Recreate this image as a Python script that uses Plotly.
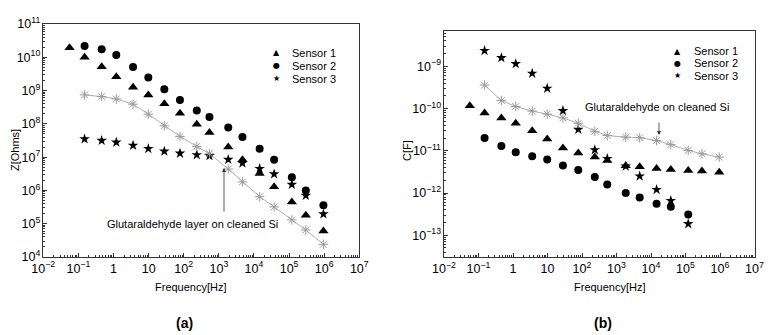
import plotly.graph_objects as go

# ---------------- data ----------------
freq_all = [0.056, 0.15, 0.46, 1.2, 3.6, 9.8, 28, 78, 235, 540, 1850, 4700,
            14500, 37500, 120000, 300000, 950000]
freq_16 = freq_all[1:]
freq_14 = freq_all[1:15]

z_sensor1 = [1.95e10, 1.0e10, 5.2e9, 2.6e9, 1.26e9, 7.4e8, 4.0e8, 2.1e8, 9.8e7,
             5.5e7, 2.0e7, 8.3e6, 3.2e6, 1.3e6, 4.5e5, 1.8e5, 6.0e4]
z_sensor2 = [2.2e10, 1.75e10, 1.17e10, 5.1e9, 2.45e9, 1.1e9, 5.2e8, 2.5e8, 1.6e8,
             7.8e7, 4.0e7, 1.8e7, 8.3e6, 2.5e6, 1.0e6, 3.6e5]
z_sensor3 = [3.5e7, 3.15e7, 2.8e7, 2.25e7, 1.8e7, 1.5e7, 1.3e7, 1.17e7, 1.1e7,
             8.5e6, 6.6e6, 4.5e6, 3.1e6, 1.5e6, 7.0e5, 1.95e5]
z_glut = [7.4e8, 6.6e8, 5.6e8, 3.9e8, 1.95e8, 8.7e7, 4.2e7, 2.1e7, 1.26e7,
          4.4e6, 1.8e6, 6.5e5, 3.2e5, 1.3e5, 6.5e4, 2.4e4]

c_sensor1 = [1.17e-10, 7.9e-11, 6.0e-11, 4.5e-11, 3.0e-11, 1.9e-11, 1.17e-11,
             8.9e-12, 7.1e-12, 5.9e-12, 4.4e-12, 4.2e-12, 3.8e-12, 3.6e-12,
             3.4e-12, 3.3e-12, 3.1e-12]
c_sensor2 = [2.0e-11, 1.3e-11, 9.3e-12, 7.4e-12, 6.2e-12, 4.5e-12, 3.5e-12,
             2.4e-12, 1.6e-12, 1.0e-12, 7.8e-13, 5.6e-13, 4.7e-13, 3.1e-13]
c_sensor3 = [2.35e-9, 1.6e-9, 1.15e-9, 6.8e-10, 3.0e-10, 8.9e-11, 3.2e-11,
             1.05e-11, 6.5e-12, 4.3e-12, 2.5e-12, 1.2e-12, 6.6e-13, 1.86e-13]
c_glut = [3.6e-10, 1.55e-10, 1.12e-10, 8.7e-11, 7.4e-11, 6.0e-11, 4.5e-11,
          2.9e-11, 2.3e-11, 2.1e-11, 2.05e-11, 1.75e-11, 1.4e-11, 1.02e-11,
          8.5e-12, 7.1e-12]

sensor_names = ["Sensor 1", "Sensor 2", "Sensor 3"]
panel_labels = ["(a)", "(b)"]
glut_labels = ["Glutaraldehyde layer on cleaned Si", "Glutaraldehyde on cleaned Si"]

# ---------------- figure ----------------
# page body has an 8px margin, so the figure is 8px smaller and positions shifted
OFF = 8
W, H = 784 - OFF, 335 - OFF
FONT = "Liberation Sans, Arial, sans-serif"

fig = go.Figure()

def px_x(p):
    return (p - OFF) / W

def px_y(p):
    return 1 - (p - OFF) / H

BLACK = "#000000"
GREY = "#9a9a9a"

def add_panel(xa, ya, s1, s2, s3, glut, f2, f3):
    fig.add_trace(go.Scatter(x=freq_all, y=s1, mode="markers", xaxis=xa, yaxis=ya,
                             marker=dict(symbol="triangle-up", size=9, color=BLACK),
                             showlegend=False))
    fig.add_trace(go.Scatter(x=f2, y=s2, mode="markers", xaxis=xa, yaxis=ya,
                             marker=dict(symbol="circle", size=8, color=BLACK),
                             showlegend=False))
    fig.add_trace(go.Scatter(x=f3, y=s3, mode="markers", xaxis=xa, yaxis=ya,
                             marker=dict(symbol="star", size=8, color=BLACK),
                             showlegend=False))
    fig.add_trace(go.Scatter(x=freq_16, y=glut, mode="lines+markers", xaxis=xa, yaxis=ya,
                             line=dict(color=GREY, width=0.8),
                             marker=dict(symbol="asterisk-open", size=8,
                                         line=dict(color=GREY, width=1)),
                             showlegend=False))

add_panel("x", "y", z_sensor1, z_sensor2, z_sensor3, z_glut, freq_16, freq_16)
add_panel("x2", "y2", c_sensor1, c_sensor2, c_sensor3, c_glut, freq_14, freq_14)

axis_common = dict(
    type="log", showgrid=False, zeroline=False, showline=True, linecolor="#333333",
    linewidth=1, mirror=True, ticks="inside", ticklen=4, tickwidth=1,
    tickcolor="#333333", dtick=1, exponentformat="power", showexponent="all",
    tickfont=dict(family=FONT, size=10, color=BLACK), automargin=False,
    minor=dict(ticks="inside", ticklen=2, tickwidth=1, tickcolor="#333333", showgrid=False),
)

fig.update_layout(
    width=W, height=H,
    margin=dict(l=0, r=0, t=0, b=0, autoexpand=False),
    paper_bgcolor="white", plot_bgcolor="white",
    showlegend=False,
    xaxis=dict(axis_common, domain=[px_x(43.3), px_x(359.3)], range=[-2, 7], anchor="y"),
    yaxis=dict(axis_common, domain=[px_y(257), px_y(24)], range=[4, 11], anchor="x"),
    xaxis2=dict(axis_common, domain=[px_x(444), px_x(754.5)], range=[-2, 7], anchor="y2"),
    yaxis2=dict(axis_common, domain=[px_y(257.3), px_y(30.7)],
                range=[-13.523, -8.155], anchor="x2"),
)

ann = []
def text(x, y, t, size=11, angle=0, bold=False):
    ann.append(dict(x=px_x(x), y=px_y(y), xref="paper", yref="paper",
                    text=("<b>%s</b>" % t) if bold else t, showarrow=False,
                    textangle=angle, xanchor="center", yanchor="middle",
                    font=dict(family=FONT, size=size, color=BLACK)))

def arrow(x, y_head, y_tail):
    ann.append(dict(x=px_x(x), y=px_y(y_head), ax=0, ay=y_tail - y_head,
                    xref="paper", yref="paper", axref="pixel", ayref="pixel",
                    text="", showarrow=True, arrowhead=2, arrowsize=1,
                    arrowwidth=0.8, arrowcolor="#333333"))

# axis titles
text(15, 150, "Z[Ohms]", size=11, angle=-90)
text(407, 150, "C[F]", size=11, angle=-90)
text(191, 287, "Frequency[Hz]", size=11)
text(610, 287, "Frequency[Hz]", size=11)
text(184, 323, panel_labels[0], size=14, bold=True)
text(603, 323, panel_labels[1], size=14, bold=True)

# glutaraldehyde annotations
text(192, 224, glut_labels[0], size=11)
arrow(224, 168, 213)
text(657, 107, glut_labels[1], size=11)
arrow(659, 135, 121)

# legends
glyphs = ["\u25B2", "\u25CF", "\u2605"]
def legend(xm, xt, ys):
    for g, n, y in zip(glyphs, sensor_names, ys):
        ann.append(dict(x=px_x(xm), y=px_y(y), xref="paper", yref="paper", text=g,
                        showarrow=False, xanchor="center", yanchor="middle",
                        font=dict(family="DejaVu Sans", size=8, color=BLACK)))
        ann.append(dict(x=px_x(xt), y=px_y(y), xref="paper", yref="paper", text=n,
                        showarrow=False, xanchor="left", yanchor="middle",
                        font=dict(family=FONT, size=11, color=BLACK)))

legend(276.5, 290, [52.5, 65.5, 78.5])
legend(677.5, 692, [51.5, 63.5, 76])

fig.update_layout(annotations=ann)
fig.write_html("out.html")
